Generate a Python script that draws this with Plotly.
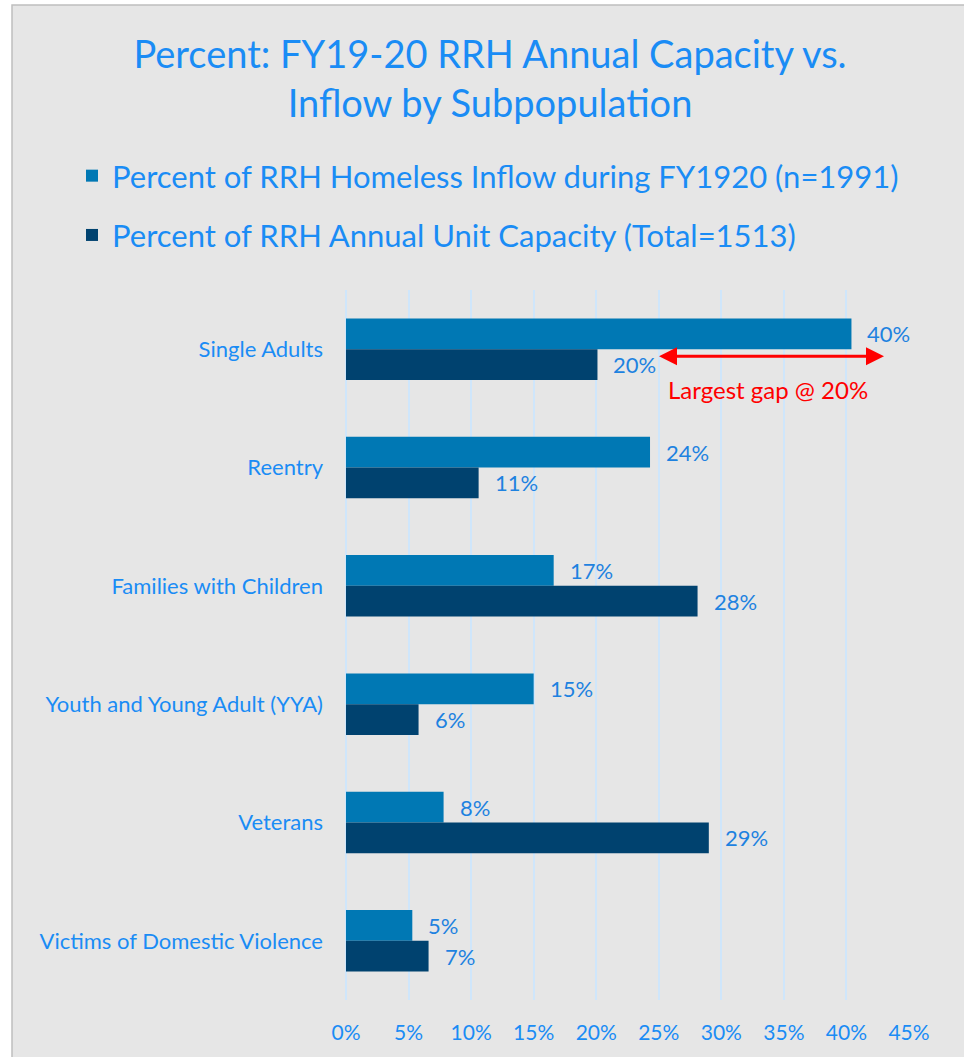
import plotly.graph_objects as go

categories = ["Single Adults", "Reentry", "Families with Children",
              "Youth and Young Adult (YYA)", "Veterans", "Victims of Domestic Violence"]
inflow_pct = [0.404, 0.243, 0.166, 0.150, 0.078, 0.053]
capacity_pct = [0.201, 0.106, 0.281, 0.058, 0.290, 0.066]
x_ticks = [0, 0.05, 0.10, 0.15, 0.20, 0.25, 0.30, 0.35, 0.40, 0.45]
x_tick_labels = ["0%", "5%", "10%", "15%", "20%", "25%", "30%", "35%", "40%", "45%"]
series_names = ["Percent of RRH Homeless Inflow during FY1920 (n=1991)",
                "Percent of RRH Annual Unit Capacity (Total=1513)"]

TXT = "#1a8cf5"
LBL = "#1e82e0"
C_IN = "#0078b4"
C_CAP = "#00426f"
FONT = "Lato, 'Open Sans', sans-serif"

fig = go.Figure()
fig.add_trace(go.Bar(y=categories, x=inflow_pct, orientation="h", name=series_names[0],
                     marker=dict(color=C_IN, line=dict(width=0)), legendgroup="a"))
fig.add_trace(go.Bar(y=categories, x=capacity_pct, orientation="h", name=series_names[1],
                     marker=dict(color=C_CAP, line=dict(width=0)), legendgroup="b"))

# data labels
annotations = []
for i, (a, b) in enumerate(zip(inflow_pct, capacity_pct)):
    annotations.append(dict(x=a, y=i - 0.13, xref="x", yref="y", text=f"{round(a*100):d}%",
                            showarrow=False, xanchor="left", xshift=14,
                            font=dict(size=22, color=LBL, family=FONT)))
    annotations.append(dict(x=b, y=i + 0.13, xref="x", yref="y", text=f"{round(b*100):d}%",
                            showarrow=False, xanchor="left", xshift=14,
                            font=dict(size=22, color=LBL, family=FONT)))

# gap arrow
annotations.append(dict(x=0.430, y=0.06, ax=0.249, ay=0.06, xref="x", yref="y",
                        axref="x", ayref="y", text="", showarrow=True,
                        arrowhead=2, arrowside="end+start", arrowsize=1.2,
                        arrowwidth=3, arrowcolor="#ff0000"))
annotations.append(dict(x=0.337, y=0.34, xref="x", yref="y", text="Largest gap @ 20%",
                        showarrow=False, font=dict(size=24, color="#ff0000", family=FONT)))

# background box
L, R, T, B = 346, 55, 290, 57
W, H = 964 - L - R, 1057 - T - B
shapes = [dict(type="rect", xref="paper", yref="paper", layer="below",
               x0=(12 - L) / W, x1=(968 - L) / W,
               y0=(1000 - 1062) / H, y1=(1000 - 5) / H,
               fillcolor="#e6e6e6", line=dict(color="#bfbfbf", width=1.5))]

fig.update_layout(
    width=964, height=1057,
    margin=dict(l=L, r=R, t=T, b=B),
    paper_bgcolor="white", plot_bgcolor="rgba(0,0,0,0)",
    barmode="group", bargap=0.48, bargroupgap=0,
    font=dict(family=FONT, color=TXT),
    title=dict(text="Percent: FY19-20 RRH Annual Capacity vs.<br>Inflow by Subpopulation",
               x=490 / 964, xanchor="center", xref="container",
               y=1 - 68 / 1057, yref="container", yanchor="middle",
               font=dict(size=38, color=TXT, family=FONT)),
    legend=dict(x=(72 - L) / W, xanchor="left", y=(1000 - 149) / H, yanchor="top",
                font=dict(size=31, color=TXT, family=FONT), bgcolor="rgba(0,0,0,0)",
                traceorder="grouped", tracegroupgap=16, itemwidth=30),
    xaxis=dict(range=[0, 0.45], tickvals=x_ticks, ticktext=x_tick_labels,
               showgrid=True, gridcolor="#cfe6fb", gridwidth=1.5,
               zeroline=True, zerolinecolor="#cfe6fb", zerolinewidth=1.5,
               showline=False, ticks="", ticklabelstandoff=18,
               tickfont=dict(size=21, color=TXT, family=FONT)),
    yaxis=dict(autorange="reversed", showgrid=False, showline=False, ticks="",
               ticklabelstandoff=22, tickfont=dict(size=22, color=TXT, family=FONT)),
    annotations=annotations, shapes=shapes,
)

fig.write_html("out.html", config={"displayModeBar": False},
               post_script="document.body.style.margin='0';document.body.style.overflow='hidden';")
